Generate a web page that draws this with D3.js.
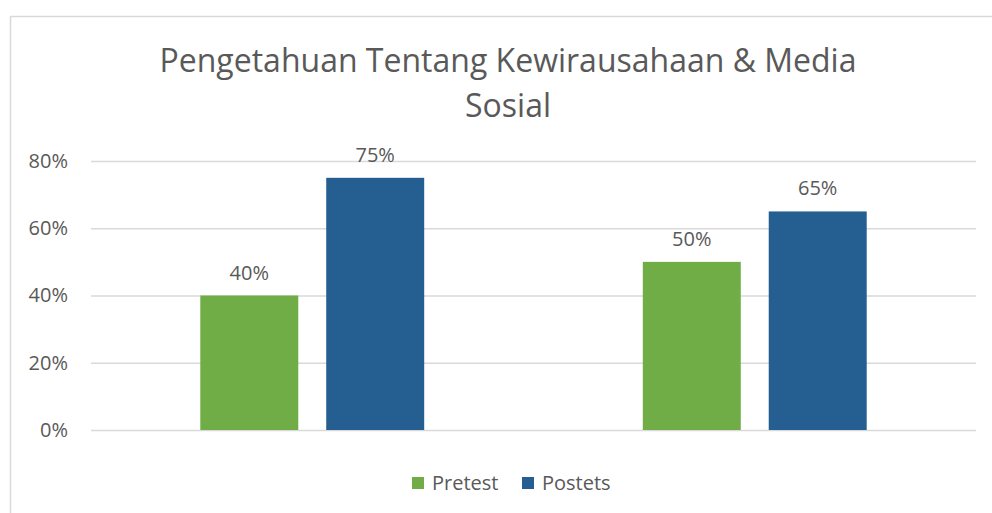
<!DOCTYPE html>
<meta charset="utf-8">
<script src="https://d3js.org/d3.v7.min.js"></script>
<html>
  <head>
    <style>
    body { margin: 0; background-color: white; }
    text { font-family: "Open Sans", sans-serif; fill: #595959; }
    </style>
  </head>
  <body>
    <div id="my_dataviz"></div>
  </body>
</html>
<script>

// data
var groups = ["Grup 1", "Grup 2"];
var series = ["Pretest", "Postets"];
var pretest = [0.40, 0.50];
var postets = [0.75, 0.65];
var yTicks = [0, 0.2, 0.4, 0.6, 0.8];
var colors = ["#70ad47", "#255e91"];

var W = 992, H = 513;
var margin = {top: 161, right: 16, bottom: 83, left: 91},
    width = W - margin.left - margin.right,
    height = H - margin.top - margin.bottom;

var root = d3.select("#my_dataviz")
  .append("svg")
    .attr("width", W)
    .attr("height", H);

// chart frame (right and bottom edges fall outside the picture)
root.append("rect")
    .attr("x", 10.5).attr("y", 16.5)
    .attr("width", 1100).attr("height", 600)
    .attr("fill", "none")
    .attr("stroke", "#d9d9d9")
    .attr("stroke-width", 1.5);

// title
var title = root.append("text")
    .attr("text-anchor", "middle")
    .style("font-size", "32px")
    .style("font-weight", 400);
title.append("tspan").attr("x", 508).attr("y", 72).text("Pengetahuan Tentang Kewirausahaan & Media");
title.append("tspan").attr("x", 508).attr("y", 117).text("Sosial");

var svg = root.append("g")
    .attr("transform", "translate(" + margin.left + "," + margin.top + ")");

// scales
var y = d3.scaleLinear().domain([0, 0.8]).range([height, 0]);
var x0 = d3.scaleBand().domain(groups).range([0, width]).paddingInner(0.494).paddingOuter(0.247);
var x1 = d3.scaleBand().domain(series).range([0, x0.bandwidth()]).paddingInner(0.222);
var color = d3.scaleOrdinal().domain(series).range(colors);

// gridlines + y labels
var yAxis = svg.append("g")
  .call(d3.axisLeft(y).tickValues(yTicks).tickFormat(d3.format(".0%")).tickSize(-width).tickPadding(23));
yAxis.select(".domain").remove();
yAxis.selectAll(".tick line").attr("stroke", "#d9d9d9").attr("stroke-width", 1.5);
yAxis.selectAll(".tick text").style("font-size", "20px").style("font-family", "Open Sans").attr("fill", "#595959");

// bars
var rows = [];
groups.forEach(function(g, i) {
  rows.push({group: g, key: "Pretest", value: pretest[i]});
  rows.push({group: g, key: "Postets", value: postets[i]});
});

svg.append("g")
  .selectAll("rect")
  .data(rows)
  .enter()
  .append("rect")
    .attr("x", function(d) { return x0(d.group) + x1(d.key); })
    .attr("y", function(d) { return y(d.value); })
    .attr("width", x1.bandwidth())
    .attr("height", function(d) { return height - y(d.value); })
    .attr("fill", function(d) { return color(d.key); });

// data labels
svg.append("g")
  .selectAll("text")
  .data(rows)
  .enter()
  .append("text")
    .attr("x", function(d) { return x0(d.group) + x1(d.key) + x1.bandwidth() / 2; })
    .attr("y", function(d) { return y(d.value) - 16; })
    .attr("text-anchor", "middle")
    .style("font-size", "20px")
    .text(function(d) { return d3.format(".0%")(d.value); });

// legend
var legendX = [412, 522];
var legend = root.append("g")
  .selectAll("g")
  .data(series)
  .enter()
  .append("g")
    .attr("transform", function(d, i) { return "translate(" + legendX[i] + ",477)"; });
legend.append("rect")
    .attr("width", 12).attr("height", 12)
    .attr("fill", function(d) { return color(d); });
legend.append("text")
    .attr("x", 20).attr("y", 13)
    .style("font-size", "20px")
    .text(function(d) { return d; });
</script>
